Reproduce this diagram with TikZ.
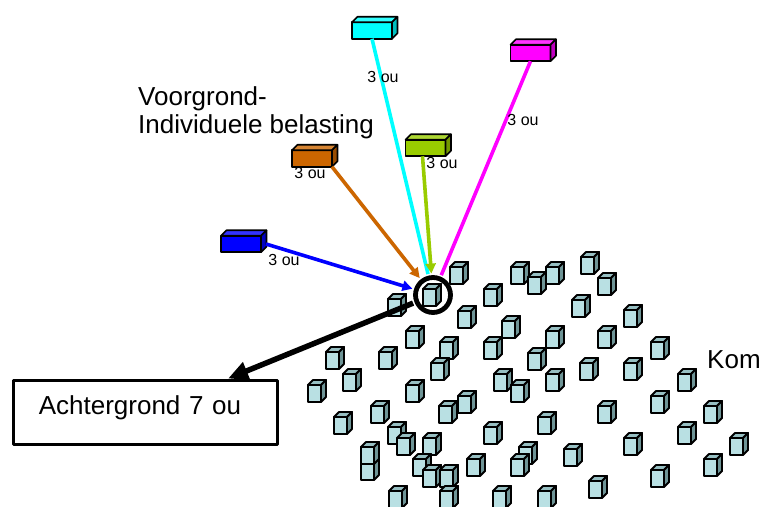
\documentclass[tikz,border=0pt]{standalone}
\usepackage{fontspec}
\setmainfont{Liberation Sans}
\usetikzlibrary{arrows.meta}
\definecolor{kubusvoor}{HTML}{B9E0E3}
\definecolor{kubusboven}{HTML}{97BFC2}
\definecolor{kubuszij}{HTML}{6E9496}
\definecolor{cyaankleur}{HTML}{00FFFF}
\definecolor{magentakleur}{HTML}{FF00FF}
\definecolor{groenkleur}{HTML}{99CC00}
\definecolor{oranjekleur}{HTML}{CC6600}
\definecolor{blauwkleur}{HTML}{0000FF}
\tikzstyle{balk}=[draw, line width=1.6pt, minimum width=40pt, minimum height=16.5pt, inner sep=0pt, outer sep=0pt]
\tikzstyle{lijn}=[line width=3.6pt]
\tikzstyle{pijl}=[lijn, -{Triangle[length=10pt,width=10pt]}]
\tikzstyle{klein}=[font=\fontsize{16}{18}\selectfont, inner sep=0pt, anchor=base]
\tikzstyle{groot}=[font=\fontsize{26}{28}\selectfont]
\tikzset{kubus/.pic={
    \draw[fill=kubusvoor] (-9,-6) rectangle (4,11);
    \draw[fill=kubusboven] (-9,-6) -- (-4,-11) -- (9,-11) -- (4,-6) -- cycle;
    \draw[fill=kubuszij] (4,-6) -- (9,-11) -- (9,6) -- (4,11) -- cycle;
}}
% top and right face of a bar
\newcommand{\zijkant}[2]{
    \draw[line width=1.6pt, fill=#2!80!white] (#1.north west) -- ++(5.5,-5.5) -- ([shift={(5.5,-5.5)}]#1.north east) -- (#1.north east) -- cycle;
    \draw[line width=1.6pt, fill=#2!75!black] (#1.north east) -- ++(5.5,-5.5) -- ([shift={(5.5,-5.5)}]#1.south east) -- (#1.south east) -- cycle;
}

\begin{document}
\begin{tikzpicture}[x=1pt, y=-1pt, line join=round]
    \fill[white] (0,0) rectangle (763,506);
    \useasboundingbox (0,0) rectangle (763,506);
% Kom
\begin{scope}[line width=1.9pt]
    \pic at (590,263) {kubus};
    \pic at (459,273) {kubus};
    \pic at (520,273) {kubus};
    \pic at (555,273) {kubus};
    \pic at (537,283) {kubus};
    \pic at (607,284) {kubus};
    \pic at (432,295) {kubus};
    \pic at (493,295) {kubus};
    \pic at (397,305) {kubus};
    \pic at (581,306) {kubus};
    \pic at (633,316) {kubus};
    \pic at (467,317) {kubus};
    \pic at (511,327) {kubus};
    \pic at (415,337) {kubus};
    \pic at (555,337) {kubus};
    \pic at (607,337) {kubus};
    \pic at (449,348) {kubus};
    \pic at (493,348) {kubus};
    \pic at (660,348) {kubus};
    \pic at (335,358) {kubus};
    \pic at (388,358) {kubus};
    \pic at (537,359) {kubus};
    \pic at (440,369) {kubus};
    \pic at (589,369) {kubus};
    \pic at (633,369) {kubus};
    \pic at (352,380) {kubus};
    \pic at (503,380) {kubus};
    \pic at (555,380) {kubus};
    \pic at (687,380) {kubus};
    \pic at (317,391) {kubus};
    \pic at (415,391) {kubus};
    \pic at (520,391) {kubus};
    \pic at (467,402) {kubus};
    \pic at (660,402) {kubus};
    \pic at (448,412) {kubus};
    \pic at (380,412) {kubus};
    \pic at (607,412) {kubus};
    \pic at (713,412) {kubus};
    \pic at (343,423) {kubus};
    \pic at (547,423) {kubus};
    \pic at (493,433) {kubus};
    \pic at (397,433) {kubus};
    \pic at (687,433) {kubus};
    \pic at (406,444) {kubus};
    \pic at (432,444) {kubus};
    \pic at (633,444) {kubus};
    \pic at (739,444) {kubus};
    \pic at (528,453) {kubus};
    \pic at (573,455) {kubus};
    \pic at (370,469) {kubus};
    \pic at (370,453) {kubus};
    \pic at (520,465) {kubus};
    \pic at (476,465) {kubus};
    \pic at (713,465) {kubus};
    \pic at (422,465) {kubus};
    \pic at (432,476) {kubus};
    \pic at (449,476) {kubus};
    \pic at (660,476) {kubus};
    \pic at (598,487) {kubus};
    \pic at (449,497) {kubus};
    \pic at (398,497) {kubus};
    \pic at (502,497) {kubus};
    \pic at (547,497) {kubus};
\end{scope}

% Bars
    \node (cyaan) [balk, fill=cyaankleur] at (372,30.5) {};
    \zijkant{cyaan}{cyaankleur}
    \node (magenta) [balk, fill=magentakleur] at (530.5,53) {};
    \zijkant{magenta}{magentakleur}
    \node (groen) [balk, fill=groenkleur] at (425.5,148) {};
    \zijkant{groen}{groenkleur}
    \node (oranje) [balk, fill=oranjekleur] at (312,158.5) {};
    \zijkant{oranje}{oranjekleur}
    \node (blauw) [balk, fill=blauwkleur] at (241,244) {};
    \zijkant{blauw}{blauwkleur}

    \node (kring) [circle, draw, line width=4.8pt, minimum size=35pt, inner sep=0pt, outer sep=4pt] at (433,295) {};

% Lines
    \draw[lijn, cyaankleur] (cyaan.south) -- (kring);
    \draw[lijn, magentakleur] (magenta.south) -- (kring);
    \draw[pijl, groenkleur] ([xshift=-3pt]groen.south) -- (kring);
    \draw[pijl, oranjekleur] (oranje.south east) -- (kring);
    \draw[pijl, blauwkleur] ([xshift=5pt]blauw.east) -- (kring);

    \node (achter) [draw, line width=3.6pt, anchor=north west, minimum width=264pt, minimum height=64pt,
        groot, inner xsep=25.5pt, text width=213pt, align=left, text depth=14pt] at (11.5,378.5) {Achtergrond 7 ou};
    \draw[line width=5.5pt, -{Triangle[length=20pt,width=18pt]}] (kring) -- (achter);

% Texts
    \node (voorgrond) [groot, align=left, anchor=north west, inner sep=0pt] at (138,86.5) {Voorgrond-\\Individuele belasting};
    \node (kom) [groot, anchor=base west, inner sep=0pt] at (707,368) {Kom};
    \node (lcyaan) [klein] at (383,82) {3 ou};
    \node (lmagenta) [klein] at (523,125) {3 ou};
    \node (lgroen) [klein] at (442,168) {3 ou};
    \node (loranje) [klein] at (310,178) {3 ou};
    \node (lblauw) [klein] at (284,265) {3 ou};
\end{tikzpicture}
\end{document}
